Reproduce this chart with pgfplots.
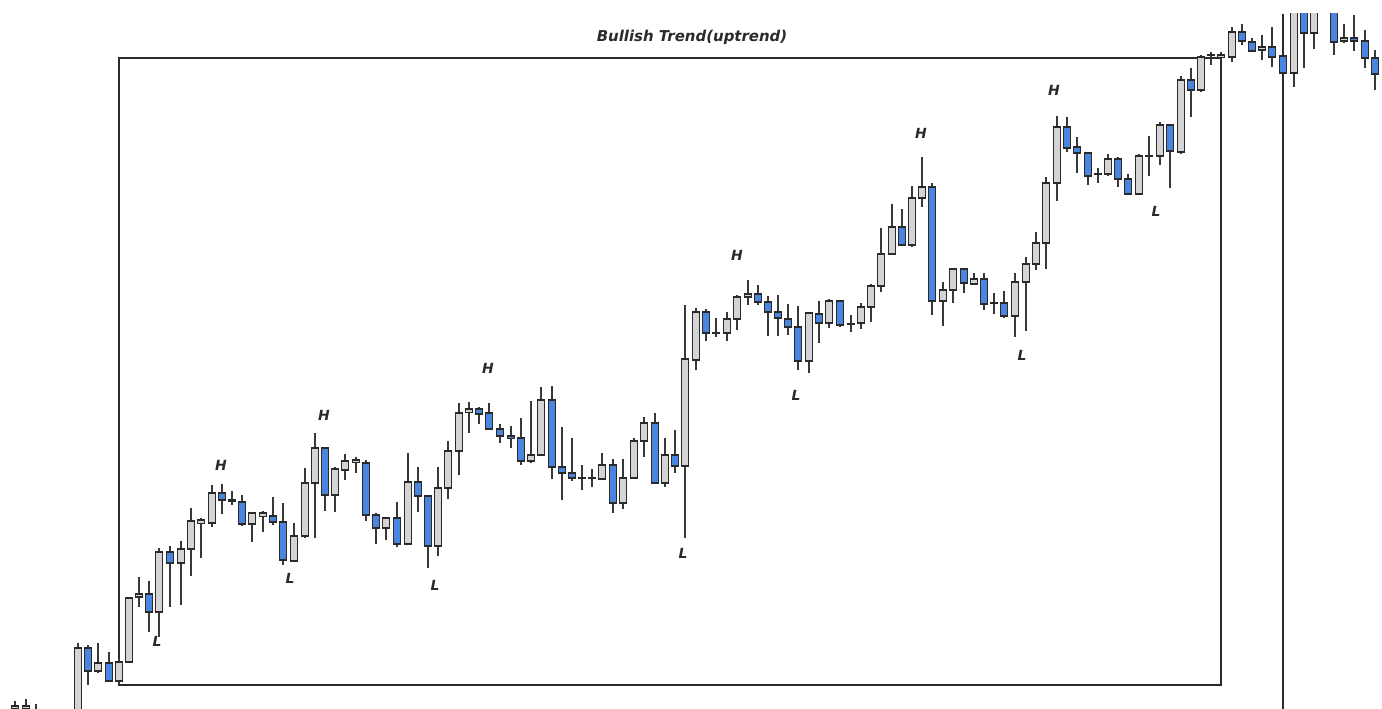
\documentclass[border=0pt]{standalone}
\usepackage{fontspec}
\setmainfont{DejaVu Sans}
\usepackage{pgfplots}
\usepackage{pgfplotstable}
\pgfplotsset{compat=1.18}

\definecolor{upfill}{HTML}{D4D4D4}
\definecolor{dnfill}{HTML}{4A86E0}
\definecolor{edge}{HTML}{2A2A2A}
\definecolor{wick}{HTML}{383838}

% candles in screen pixels: x, high, body top, body bottom, low
\pgfplotstableread{
x hi top bot lo
15 701 706 708 716
26 699 706 708 716
78 643 648 730 740
98 643 663 671 673
119 658 662 681 684
129 597 598 662 663
139 577 594 597 607
159 548 552 612 637
181 541 549 563 605
191 508 521 549 576
201 518 520 523 558
212 485 493 523 527
232 491 500 501 505
252 512 513 524 542
263 511 513 516 532
294 523 536 561 562
305 468 483 536 538
315 433 448 483 538
335 467 469 495 512
345 454 461 470 480
356 457 460 462 473
386 517 518 528 540
408 453 482 544 545
438 467 488 546 556
448 441 451 488 499
459 403 413 451 475
469 402 409 412 433
531 401 455 461 463
541 387 400 455 456
582 465 478 478 490
592 469 478 478 487
602 453 465 479 480
623 459 478 503 509
634 438 441 478 479
644 417 423 441 457
665 438 455 483 487
685 305 359 466 538
696 308 312 360 370
716 318 333 333 337
727 312 319 333 341
737 295 297 319 330
748 280 294 297 305
809 312 313 361 373
829 299 301 323 328
851 315 324 324 332
861 303 307 323 329
871 284 286 307 322
881 228 254 286 292
892 204 227 254 255
912 186 198 245 247
922 157 187 198 207
943 282 290 301 326
953 269 269 290 303
974 273 279 284 285
994 293 303 303 314
1015 273 282 316 337
1026 257 264 282 331
1036 232 243 264 270
1046 177 183 243 269
1057 116 127 183 201
1098 168 174 174 183
1108 154 159 174 176
1139 154 156 194 195
1149 136 156 156 176
1160 122 125 156 165
1181 76 80 152 154
1201 55 57 90 92
1211 52 55 55 65
1221 52 55 57 60
1232 27 32 57 62
1262 35 47 50 60
1294 10 10 73 87
1314 10 10 33 49
1344 24 38 41 43
}\upcandles

\pgfplotstableread{
x hi top bot lo
36 704 712 720 725
88 645 648 671 685
109 652 663 681 682
149 581 594 612 632
170 546 552 563 607
222 484 493 500 514
242 495 502 524 526
273 497 516 522 525
283 503 522 560 565
325 447 448 495 511
366 460 463 515 521
376 513 515 528 544
397 502 518 544 547
418 467 482 496 512
428 495 496 546 568
479 407 409 414 424
489 403 413 429 430
500 424 429 436 443
511 426 436 438 448
521 418 438 461 465
552 386 400 467 479
562 427 467 473 500
572 438 473 478 481
613 459 465 503 513
655 413 423 483 484
675 430 455 466 473
706 309 312 333 341
758 285 294 302 305
768 296 302 312 336
778 295 312 318 336
788 304 319 327 335
798 306 327 361 370
819 301 314 323 343
840 300 301 325 327
902 209 227 245 246
932 183 187 301 315
964 269 269 283 293
984 273 279 304 310
1004 291 303 316 318
1067 117 127 148 152
1077 137 147 153 173
1088 153 153 176 185
1118 157 159 179 187
1128 174 179 194 195
1170 124 125 151 188
1191 68 80 90 117
1242 24 32 41 45
1252 38 42 51 51
1272 27 47 57 67
1283 56 56 73 73
1304 10 10 33 68
1334 10 10 42 55
1354 15 38 41 51
1365 30 41 58 68
1375 50 58 74 90
}\dncandles

\pgfplotstableread{
x y t
157 641 L
221 465 H
290 578 L
324 415 H
435 585 L
488 368 H
683 553 L
737 255 H
796 395 L
921 133 H
1022 355 L
1054 90 H
1156 211 L
}\pivots

\pgfplotsset{
  nomark/.style={only marks, mark size=0pt, mark options={draw opacity=0, fill opacity=0}},
  wicks/.style={nomark,
    error bars/.cd, y dir=both, y explicit, error mark=none,
    error bar style={line width=1.3bp, color=wick}},
  bodyedge/.style={nomark,
    error bars/.cd, y dir=both, y explicit, error mark=none,
    error bar style={line width=7.8bp, color=edge}},
  bodyfill/.style={nomark,
    error bars/.cd, y dir=both, y explicit, error mark=none,
    error bar style={line width=6.0bp, color=#1}},
}

\begin{document}
\begin{tikzpicture}
\begin{axis}[
    x=1bp, y=1bp,
    xmin=0, xmax=1382,
    ymin=14, ymax=709,
    y dir=reverse,
    enlargelimits=false,
    axis line style={draw=none},
    ticks=none,
]
% frame and separator
\draw[color=edge, line width=1.3bp] (axis cs:119,58) rectangle (axis cs:1221,685);
\draw[color=edge, line width=1.3bp] (axis cs:1283,14) -- (axis cs:1283,709);

% wicks
\addplot[wicks] table[x=x, y expr=(\thisrow{hi}+\thisrow{lo})/2, y error expr=(\thisrow{lo}-\thisrow{hi})/2] {\upcandles};
\addplot[wicks] table[x=x, y expr=(\thisrow{hi}+\thisrow{lo})/2, y error expr=(\thisrow{lo}-\thisrow{hi})/2] {\dncandles};

% bodies: dark outline, then fill
\addplot[bodyedge] table[x=x, y expr=(\thisrow{top}+\thisrow{bot})/2, y error expr=(\thisrow{bot}-\thisrow{top})/2+0.75] {\upcandles};
\addplot[bodyedge] table[x=x, y expr=(\thisrow{top}+\thisrow{bot})/2, y error expr=(\thisrow{bot}-\thisrow{top})/2+0.75] {\dncandles};
\addplot[bodyfill=upfill] table[x=x, y expr=(\thisrow{top}+\thisrow{bot})/2, y error expr={max((\thisrow{bot}-\thisrow{top})/2-0.8,0)}] {\upcandles};
\addplot[bodyfill=dnfill] table[x=x, y expr=(\thisrow{top}+\thisrow{bot})/2, y error expr={max((\thisrow{bot}-\thisrow{top})/2-0.8,0)}] {\dncandles};

% swing highs and lows
\addplot[nomark, nodes near coords, point meta=explicit symbolic,
  nodes near coords style={anchor=center, text=edge, text opacity=1, font=\fontsize{14}{16}\selectfont\bfseries\itshape}]
  table[x=x, y=y, meta=t] {\pivots};

\node[text=edge, font=\fontsize{15}{18}\selectfont\bfseries\itshape] at (axis cs:692,37) {Bullish Trend(uptrend)};
\end{axis}
\path (current axis.south west) rectangle ([yshift=14bp]current axis.north east);
\end{tikzpicture}
\end{document}
